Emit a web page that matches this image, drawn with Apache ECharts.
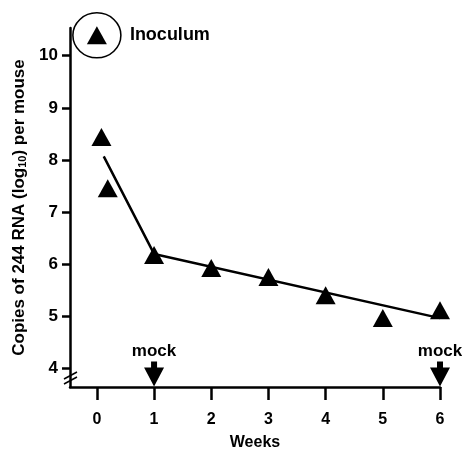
<!DOCTYPE html>
<html>
<head>
<meta charset="utf-8">
<script src="https://cdn.jsdelivr.net/npm/echarts@6/dist/echarts.min.js"></script>
<style>
    html, body { margin: 0; padding: 0; background: #fff; }
    #chart { width: 462px; height: 449px; }
</style>
</head>
<body>
<div id="chart"></div>
<script>
const weeks = [0, 1, 2, 3, 4, 5, 6]
const yTicks = [4, 5, 6, 7, 8, 9, 10]

// measured copies (log10) per mouse: [week, value]
const inoculum = [[0, 10.39]]
const points = [[0.08, 8.44], [0.19, 7.46], [1, 6.18], [2, 5.93], [3, 5.76], [4, 5.41], [5, 4.97], [6, 5.12]]
const fitLine = [[0.12, 8.07], [1, 6.2], [6, 4.97]]
const mockWeeks = [1, 6]

const xMin = -0.47
const xMax = 6
const yMin = 3.65
const yMax = 10.53

const font = '"Liberation Sans", Arial, sans-serif'
const bold = { fontFamily: font, fontWeight: 'bold', fontSize: 17, color: '#000' }
const arrow = 'path://M7,0 L13,0 L13,6 L20,6 L10,25 L0,6 L7,6 Z'

const chart = echarts.init(document.getElementById('chart'))

const option = {
    animation: false,
    grid: { left: 70, right: 22, top: 28, bottom: 62, containLabel: false, outerBoundsMode: 'none' },
    xAxis: {
        type: 'value',
        min: xMin,
        max: xMax,
        name: 'Weeks',
        nameLocation: 'middle',
        nameGap: 48,
        nameTextStyle: { ...bold, fontSize: 16 },
        splitLine: { show: false },
        axisLine: { onZero: false, lineStyle: { color: '#000', width: 2.5 } },
        axisTick: { customValues: weeks, length: 13, lineStyle: { color: '#000', width: 2.5 } },
        axisLabel: { customValues: weeks, margin: 25, ...bold, fontSize: 16 },
    },
    yAxis: {
        type: 'value',
        min: yMin,
        max: yMax,
        name: 'Copies of 244 RNA (log{sub|10}) per mouse',
        nameLocation: 'middle',
        nameGap: 37,
        nameRotate: 90,
        nameTextStyle: {
            ...bold,
            rich: { sub: { ...bold, fontSize: 11, verticalAlign: 'bottom', padding: [7, 0, 0, 0] } },
        },
        splitLine: { show: false },
        axisLine: { onZero: false, lineStyle: { color: '#000', width: 2.5 } },
        axisTick: { customValues: yTicks, length: 8, lineStyle: { color: '#000', width: 2.5 } },
        axisLabel: { customValues: yTicks, margin: 12, ...bold },
    },
    series: [
        {
            type: 'line',
            data: fitLine,
            symbol: 'none',
            lineStyle: { color: '#000', width: 2.5 },
            z: 2,
        },
        {
            type: 'scatter',
            data: points,
            symbol: 'triangle',
            symbolSize: [20, 18],
            itemStyle: { color: '#000', opacity: 1 },
            z: 3,
        },
        {
            type: 'scatter',
            data: inoculum,
            symbol: 'triangle',
            symbolSize: [20, 18],
            itemStyle: { color: '#000', opacity: 1 },
            label: { show: true, position: 'right', distance: 23, formatter: 'Inoculum', ...bold, fontSize: 18 },
            z: 3,
        },
        {
            type: 'scatter',
            data: inoculum,
            symbol: 'circle',
            symbolSize: [48, 45],
            itemStyle: { color: 'rgba(0,0,0,0)', borderColor: '#000', borderWidth: 1.5, opacity: 1 },
            z: 2,
        },
        {
            type: 'scatter',
            data: mockWeeks.map(w => [w, yMin]),
            symbol: arrow,
            symbolSize: [20, 25],
            symbolOffset: [0, -13],
            itemStyle: { color: '#000', opacity: 1 },
            label: { show: true, position: 'top', distance: 2, formatter: 'mock', ...bold },
            z: 4,
        },
    ],
}

chart.setOption(option)

// axis break marks near the bottom of the y axis
const o = chart.convertToPixel({ gridIndex: 0 }, [xMin, yMin])
chart.setOption({
    graphic: [
        { type: 'line', shape: { x1: o[0] - 6, y1: o[1] - 8, x2: o[0] + 7, y2: o[1] - 15 }, style: { stroke: '#000', lineWidth: 1.5 } },
        { type: 'line', shape: { x1: o[0] - 6, y1: o[1] - 3, x2: o[0] + 7, y2: o[1] - 10 }, style: { stroke: '#000', lineWidth: 1.5 } },
    ],
})
</script>
</body>
</html>
